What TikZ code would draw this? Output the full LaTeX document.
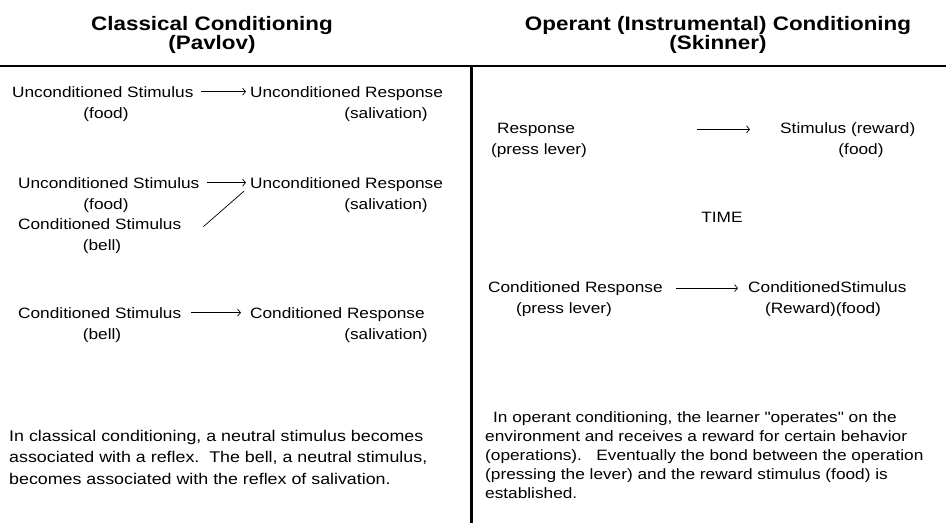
\documentclass[tikz,border=0pt]{standalone}
\usepackage{fontspec}
\setmainfont[FakeStretch=1.15, Ligatures=TeXOff]{Liberation Sans}
\usetikzlibrary{arrows.meta}

\begin{document}
\begin{tikzpicture}[x=1pt, y=-1pt, font=\fontsize{15}{21}\selectfont,
    every node/.style={inner sep=0pt, anchor=base west},
    title/.style={font=\fontsize{19.5}{18}\selectfont\bfseries, align=center, anchor=north},
    sub/.style={anchor=base},
    link/.style={-{Straight Barb[length=3pt, width=7pt]}, line width=0.7pt}]
    \useasboundingbox (0,0) rectangle (946,523);
    % frame
    \draw[line width=1.5pt] (0,66) -- (946,66);
    \draw[line width=3pt] (471.5,66) -- (471.5,523);
    % titles
    \node[title] (ctitle) at (212,16) {Classical Conditioning\\(Pavlov)};
    \node[title] (otitle) at (718,16) {Operant (Instrumental) Conditioning\\(Skinner)};
    % classical, before
    \node (us1) at (12,97) {Unconditioned Stimulus};
    \node (ur1) at (250,97) {Unconditioned Response};
    \node[sub] (food1) at (106,118) {(food)};
    \node[sub] (sal1) at (386,118) {(salivation)};
    \draw[link, shorten <=7pt, shorten >=4pt] (us1.east) -- (us1.east -| ur1.west);
    % classical, pairing
    \node (us2) at (18,188) {Unconditioned Stimulus};
    \node (ur2) at (250,188) {Unconditioned Response};
    \node[sub] (food2) at (106,209) {(food)};
    \node[sub] (sal2) at (386,209) {(salivation)};
    \node (cs2) at (18,229) {Conditioned Stimulus};
    \node[sub] (bell2) at (102,250) {(bell)};
    \draw[link, shorten <=7pt, shorten >=4pt] (us2.east) -- (us2.east -| ur2.west);
    \draw[line width=0.7pt] ([xshift=22pt, yshift=-3pt]cs2.east) -- ([xshift=-6pt, yshift=-7pt]ur2.west);
    % classical, after
    \node (cs3) at (18,318) {Conditioned Stimulus};
    \node (cr3) at (250,318) {Conditioned Response};
    \node[sub] (bell3) at (102,339) {(bell)};
    \node[sub] (sal3) at (386,339) {(salivation)};
    \draw[link, shorten <=10pt, shorten >=9pt] (cs3.east) -- (cs3.east -| cr3.west);
    \node[anchor=north west, align=left, font=\fontsize{15.5}{21.5}\selectfont] (cpara) at (9,430)
        {In classical conditioning, a neutral stimulus becomes\\
         associated with a reflex.\ \ The bell, a neutral stimulus,\\
         becomes associated with the reflex of salivation.};
    % operant
    \node (resp) at (497,133) {Response};
    \node[sub] (lever1) at (539,154) {(press lever)};
    \node (stim) at (780,133) {Stimulus (reward)};
    \node[sub] (food3) at (861,154) {(food)};
    \draw[link, shorten <=122pt, shorten >=30pt] (resp.east) -- (resp.east -| stim.west);
    \node[sub] (time) at (722,222) {TIME};
    \node (cresp) at (488,292) {Conditioned Response};
    \node[sub] (lever2) at (564,313) {(press lever)};
    \node (cstim) at (748,292) {ConditionedStimulus};
    \node[sub] (reward) at (823,313) {(Reward)(food)};
    \draw[link, shorten <=13pt, shorten >=10pt] (cresp.east) -- (cresp.east -| cstim.west);
    \node[anchor=north west, align=left, font=\fontsize{15}{19}\selectfont] (opara) at (485,411)
        {\hspace*{8pt}In operant conditioning, the learner "operates" on the\\
         environment and receives a reward for certain behavior\\
         (operations).\ \ \ Eventually the bond between the operation\\
         (pressing the lever) and the reward stimulus (food) is\\
         established.};
\end{tikzpicture}
\end{document}
